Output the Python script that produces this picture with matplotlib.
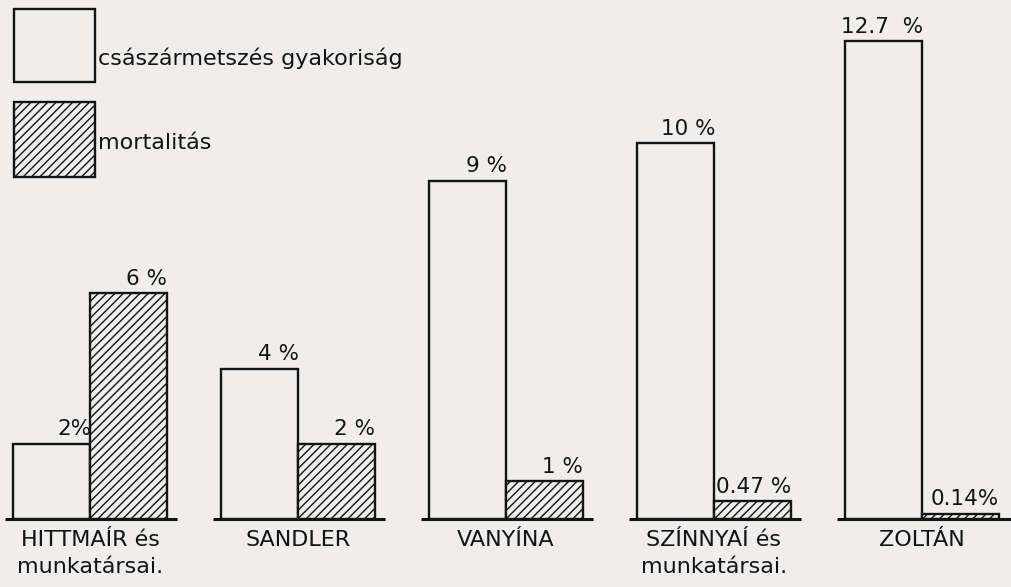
import numpy as np
import matplotlib
matplotlib.use("Agg")
import matplotlib.pyplot as plt
from matplotlib.patches import Rectangle

# Data
groups = ["HITTMAÍR és\nmunkatársai.", "SANDLER", "VANYÍNA",
          "SZÍNNYAÍ és\nmunkatársai.", "ZOLTÁN"]
cesarean = [2, 4, 9, 10, 12.7]
mortality = [6, 2, 1, 0.47, 0.14]
cesarean_labels = ["2%", "4 %", "9 %", "10 %", "12.7  %"]
mortality_labels = ["6 %", "2 %", "1 %", "0.47 %", "0.14%"]
legend_labels = ["császármetszés gyakoriság", "mortalitás"]

bg = "#efeee8"
ink = "#141414"
plt.rcParams["font.family"] = ["DejaVu Sans"]
plt.rcParams["hatch.linewidth"] = 1.0
plt.rcParams["hatch.color"] = ink

W, H = 1012, 587
fig = plt.figure(figsize=(W / 100, H / 100), dpi=100, facecolor=bg)
ax = fig.add_axes([0, 68 / H, 1, 519 / H])
ax.set_facecolor(bg)

x = np.arange(len(groups))
w = 0.37

ax.bar(x - w / 2, cesarean, width=w, facecolor=bg, edgecolor=ink, linewidth=1.7)
ax.bar(x + w / 2, mortality, width=w, facecolor=bg, edgecolor=ink,
       linewidth=1.7, hatch="////")

# separate baseline under each group
right_end = x + 0.42
right_end[-1] = 5
ax.hlines([0] * len(x), x - 0.41, right_end, colors=ink, linewidth=2.2,
          clip_on=False)

# value labels
for i in range(len(x)):
    ax.annotate(cesarean_labels[i], (x[i], cesarean[i]), xytext=(1, 6),
                textcoords="offset points", ha="right", va="baseline",
                fontsize=15.5, color=ink)
    ax.annotate(mortality_labels[i], (x[i] + w, mortality[i]), xytext=(0, 6),
                textcoords="offset points", ha="right", va="baseline",
                fontsize=15.5, color=ink)

ax.set_xlim(-0.433, 4.433)
ax.set_ylim(0, 13.8)
ax.set_xticks(x)
ax.set_xticklabels(groups, fontsize=16, color=ink, linespacing=1.4)
ax.tick_params(axis="x", length=0, pad=8)
ax.set_yticks([])
for s in ax.spines.values():
    s.set_visible(False)

# legend drawn by hand: big boxes at the top left
fig.add_artist(Rectangle((14 / W, 1 - 82 / H), 81 / W, 73 / H,
                         transform=fig.transFigure, facecolor=bg,
                         edgecolor=ink, linewidth=1.7))
fig.add_artist(Rectangle((14 / W, 1 - 177 / H), 81 / W, 75 / H,
                         transform=fig.transFigure, facecolor=bg,
                         edgecolor=ink, linewidth=1.7, hatch="////"))
fig.text(98 / W, 1 - 58 / H, legend_labels[0], fontsize=16, color=ink,
         va="center", ha="left")
fig.text(98 / W, 1 - 143 / H, legend_labels[1], fontsize=16, color=ink,
         va="center", ha="left")

fig.savefig("out.png", dpi=100, facecolor=bg)
